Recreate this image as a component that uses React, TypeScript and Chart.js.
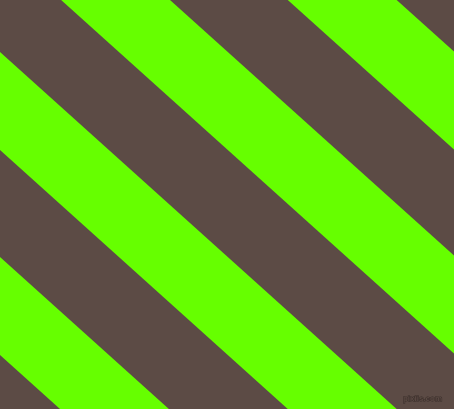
import React, { useEffect, useRef } from "react";
import { Chart, registerables } from "chart.js";

Chart.register(...registerables);

// Stripe boundaries: lines y = c + slope * x (pixel space, y downward)
const slope = 0.9;
const greenUpper = [-357, -153, 52, 257];
const greenLower = [-259, -55, 150, 355];
const xExtent = [0, 454];
const yExtent = [0, 409];
const brown = "#5c4b45";
const green = "#66ff00";
const watermark = "pixiis.com";

export default function App() {
  const ref = useRef<HTMLCanvasElement>(null);
  useEffect(() => {
    const datasets: any[] = [];
    greenUpper.forEach((c1, i) => {
      const c2 = greenLower[i];
      datasets.push({
        data: xExtent.map((x) => ({ x, y: c1 + slope * x })),
        borderWidth: 0,
        pointRadius: 0,
        fill: false,
      });
      datasets.push({
        data: xExtent.map((x) => ({ x, y: c2 + slope * x })),
        borderWidth: 0,
        pointRadius: 0,
        fill: "-1",
        backgroundColor: green,
      });
    });
    const chart = new Chart(ref.current!, {
      type: "line",
      data: { datasets },
      options: {
        animation: false,
        responsive: false,
        devicePixelRatio: 1,
        layout: { padding: 0 },
        plugins: { legend: { display: false }, tooltip: { enabled: false } },
        scales: {
          x: { type: "linear", min: xExtent[0], max: xExtent[1], display: false },
          y: { type: "linear", min: yExtent[0], max: yExtent[1], reverse: true, display: false },
        },
      },
      plugins: [
        {
          id: "bg",
          beforeDraw(c: any) {
            const ctx = c.ctx;
            ctx.save();
            ctx.fillStyle = brown;
            ctx.fillRect(0, 0, c.width, c.height);
            ctx.restore();
          },
          afterDraw(c: any) {
            const ctx = c.ctx;
            ctx.save();
            ctx.font = "bold 8px 'Liberation Sans', Arial, sans-serif";
            ctx.textAlign = "right";
            ctx.textBaseline = "alphabetic";
            ctx.lineWidth = 1;
            ctx.strokeStyle = "#3a2e2a";
            ctx.strokeText(watermark, 442, 401);
            ctx.fillStyle = brown;
            ctx.fillText(watermark, 442, 401);
            ctx.restore();
          },
        },
      ],
    });
    return () => chart.destroy();
  }, []);
  return (
    <div style={{ position: "fixed", left: 0, top: 0, width: 454, height: 409 }}>
      <canvas ref={ref} width={454} height={409} style={{ display: "block" }} />
    </div>
  );
}
